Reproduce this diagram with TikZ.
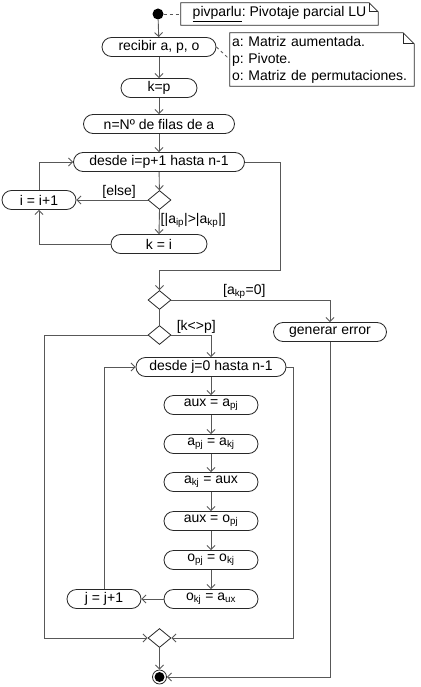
\documentclass[tikz,border=0pt]{standalone}
\usepackage{fontspec}
\setmainfont{Liberation Sans}
\usetikzlibrary{arrows.meta,calc,shapes.geometric}
\definecolor{FlowGray}{RGB}{88,88,88}
\definecolor{BoxBorder}{RGB}{40,40,40}
\newcommand{\flowfont}{\fontsize{14}{17}\selectfont\frenchspacing}
\tikzset{
  accion/.style={draw=BoxBorder, fill=white, rounded corners=9.5pt, line width=0.8pt,
                 minimum height=19pt, inner sep=1pt, font=\flowfont},
  decision/.style={diamond, draw=BoxBorder, fill=white, line width=0.8pt,
                 minimum width=23pt, minimum height=19pt, inner sep=0pt},
  nota/.style={align=left, inner sep=2pt, font=\flowfont},
  notaborde/.style={draw=BoxBorder, line width=0.7pt},
  % connectors of the flow
  flujo/.style={-{Straight Barb[length=4pt,width=8pt]}, draw=FlowGray, line width=0.9pt},
  linea/.style={draw=FlowGray, line width=0.9pt},
  enlace/.style={dashed, draw=FlowGray, line width=0.8pt},
  rlabel/.style={font=\flowfont, inner sep=1pt},
}

\begin{document}
\begin{tikzpicture}[x=1pt,y=-1pt]
  \useasboundingbox (0,0) rectangle (420,687);

  % --- inicio y notas -------------------------------------------------------
  \fill (158,14) circle (5.5pt) node[minimum size=11pt, inner sep=0pt] (ini) {};
  \node[nota, minimum width=197pt, minimum height=22pt] (titulo) at (279.5,14)
    {\underline{pivparlu}: Pivotaje parcial LU};
  \draw[notaborde] (titulo.south west) -- (titulo.north west) -- ($(titulo.north east)+(-9,0)$)
    -- ($(titulo.north east)+(0,9)$) -- (titulo.south east) -- cycle;
  \draw[notaborde] ($(titulo.north east)+(-9,0)$) -- ($(titulo.north east)+(-9,9)$) -- ($(titulo.north east)+(0,9)$);

  \node[accion, minimum width=114pt] (recibir) at (159,47) {recibir a, p, o};
  \node[nota, minimum width=184pt, minimum height=53pt, text width=180pt] (datos) at (322,59.5)
    {a: Matriz aumentada.\\p: Pivote.\\o: Matriz de permutaciones.};
  \draw[notaborde] (datos.south west) -- (datos.north west) -- ($(datos.north east)+(-11,0)$)
    -- ($(datos.north east)+(0,11)$) -- (datos.south east) -- cycle;
  \draw[notaborde] ($(datos.north east)+(-11,0)$) -- ($(datos.north east)+(-11,11)$) -- ($(datos.north east)+(0,11)$);

  \draw[enlace] (ini) -- (titulo.west);
  \draw[enlace] (recibir.east) -- (datos.west);

  % --- busqueda del pivote --------------------------------------------------
  \node[accion, minimum width=76pt]  (kp)     at (159,88)  {k=p};
  \node[accion, minimum width=151pt] (nfilas) at (159,124) {n=Nº de filas de a};
  \node[accion, minimum width=171pt] (desdei) at (159,162) {desde i=p+1 hasta n-1};
  \node[decision] (dec1) at (159.5,200) {};
  \node[accion, minimum width=74pt]  (incri)  at (39,200)  {i = i+1};
  \node[accion, minimum width=96pt]  (ki)     at (159,244) {k = i};

  \draw[flujo] (ini) -- (recibir);
  \draw[flujo] (recibir) -- (kp);
  \draw[flujo] (kp) -- (nfilas);
  \draw[flujo] (nfilas) -- (desdei);
  \draw[flujo] (desdei) -- (dec1);
  \draw[flujo] (dec1.west) -- node[rlabel, above, pos=0.4]{[else]} (incri.east);
  \draw[flujo] (dec1.south) -- node[rlabel, right, pos=0.45]{[|a\textsubscript{ip}|>|a\textsubscript{kp}|]} (ki.north);
  \draw[flujo] (ki.west) -| (incri.south);
  \draw[flujo] (incri.north) |- (desdei.west);

  % --- comprobaciones -------------------------------------------------------
  \node[decision] (dec2) at (159.5,300) {};
  \node[accion, minimum width=113pt] (error) at (330,332) {generar error};
  \node[decision] (dec3) at (159.5,335) {};

  \draw[flujo] (desdei.east) -| ++(36,108) -| (dec2.north);
  \draw[flujo] (dec2.east) -| node[rlabel, above, pos=0.23]{[a\textsubscript{kp}=0]} (error.north);
  \draw[linea] (dec2.south) -- (dec3.north);

  % --- intercambio de filas -------------------------------------------------
  \node[accion, minimum width=150pt] (desdej) at (211,367) {desde j=0 hasta n-1};
  \node[accion, minimum width=94pt] (aux1) at (211,405) {aux = a\textsubscript{pj}};
  \node[accion, minimum width=94pt] (aux2) at (211,444) {a\textsubscript{pj} = a\textsubscript{kj}};
  \node[accion, minimum width=94pt] (aux3) at (211,482) {a\textsubscript{kj} = aux};
  \node[accion, minimum width=94pt] (aux4) at (211,521) {aux = o\textsubscript{pj}};
  \node[accion, minimum width=94pt] (aux5) at (211,560) {o\textsubscript{pj} = o\textsubscript{kj}};
  \node[accion, minimum width=94pt] (aux6) at (211,599) {o\textsubscript{kj} = a\textsubscript{ux}};
  \node[accion, minimum width=74pt] (incrj) at (104,599) {j = j+1};

  \draw[flujo] (dec3.east) -| node[rlabel, anchor=south west, pos=0.05]{[k<>p]} (desdej.north);
  \draw[flujo] (desdej) -- (aux1);
  \draw[flujo] (aux1) -- (aux2);
  \draw[flujo] (aux2) -- (aux3);
  \draw[flujo] (aux3) -- (aux4);
  \draw[flujo] (aux4) -- (aux5);
  \draw[flujo] (aux5) -- (aux6);
  \draw[flujo] (aux6) -- (incrj);
  \draw[flujo] (incrj.north) |- (desdej.west);

  % --- union y final --------------------------------------------------------
  \node[decision] (union) at (159.5,638) {};
  \node[circle, draw=BoxBorder, line width=0.8pt, minimum size=14pt, inner sep=0pt,
        path picture={\fill (path picture bounding box.center) circle (5pt);}] (fin) at (159.5,677) {};

  \draw[flujo] (dec3.west) -| ++(-103,303) -- (union.west);
  \draw[flujo] (desdej.east) -| ++(7,271) -- (union.east);
  \draw[flujo] (union) -- (fin);
  \draw[flujo] (error.south) |- (fin.east);

\end{tikzpicture}
\end{document}
